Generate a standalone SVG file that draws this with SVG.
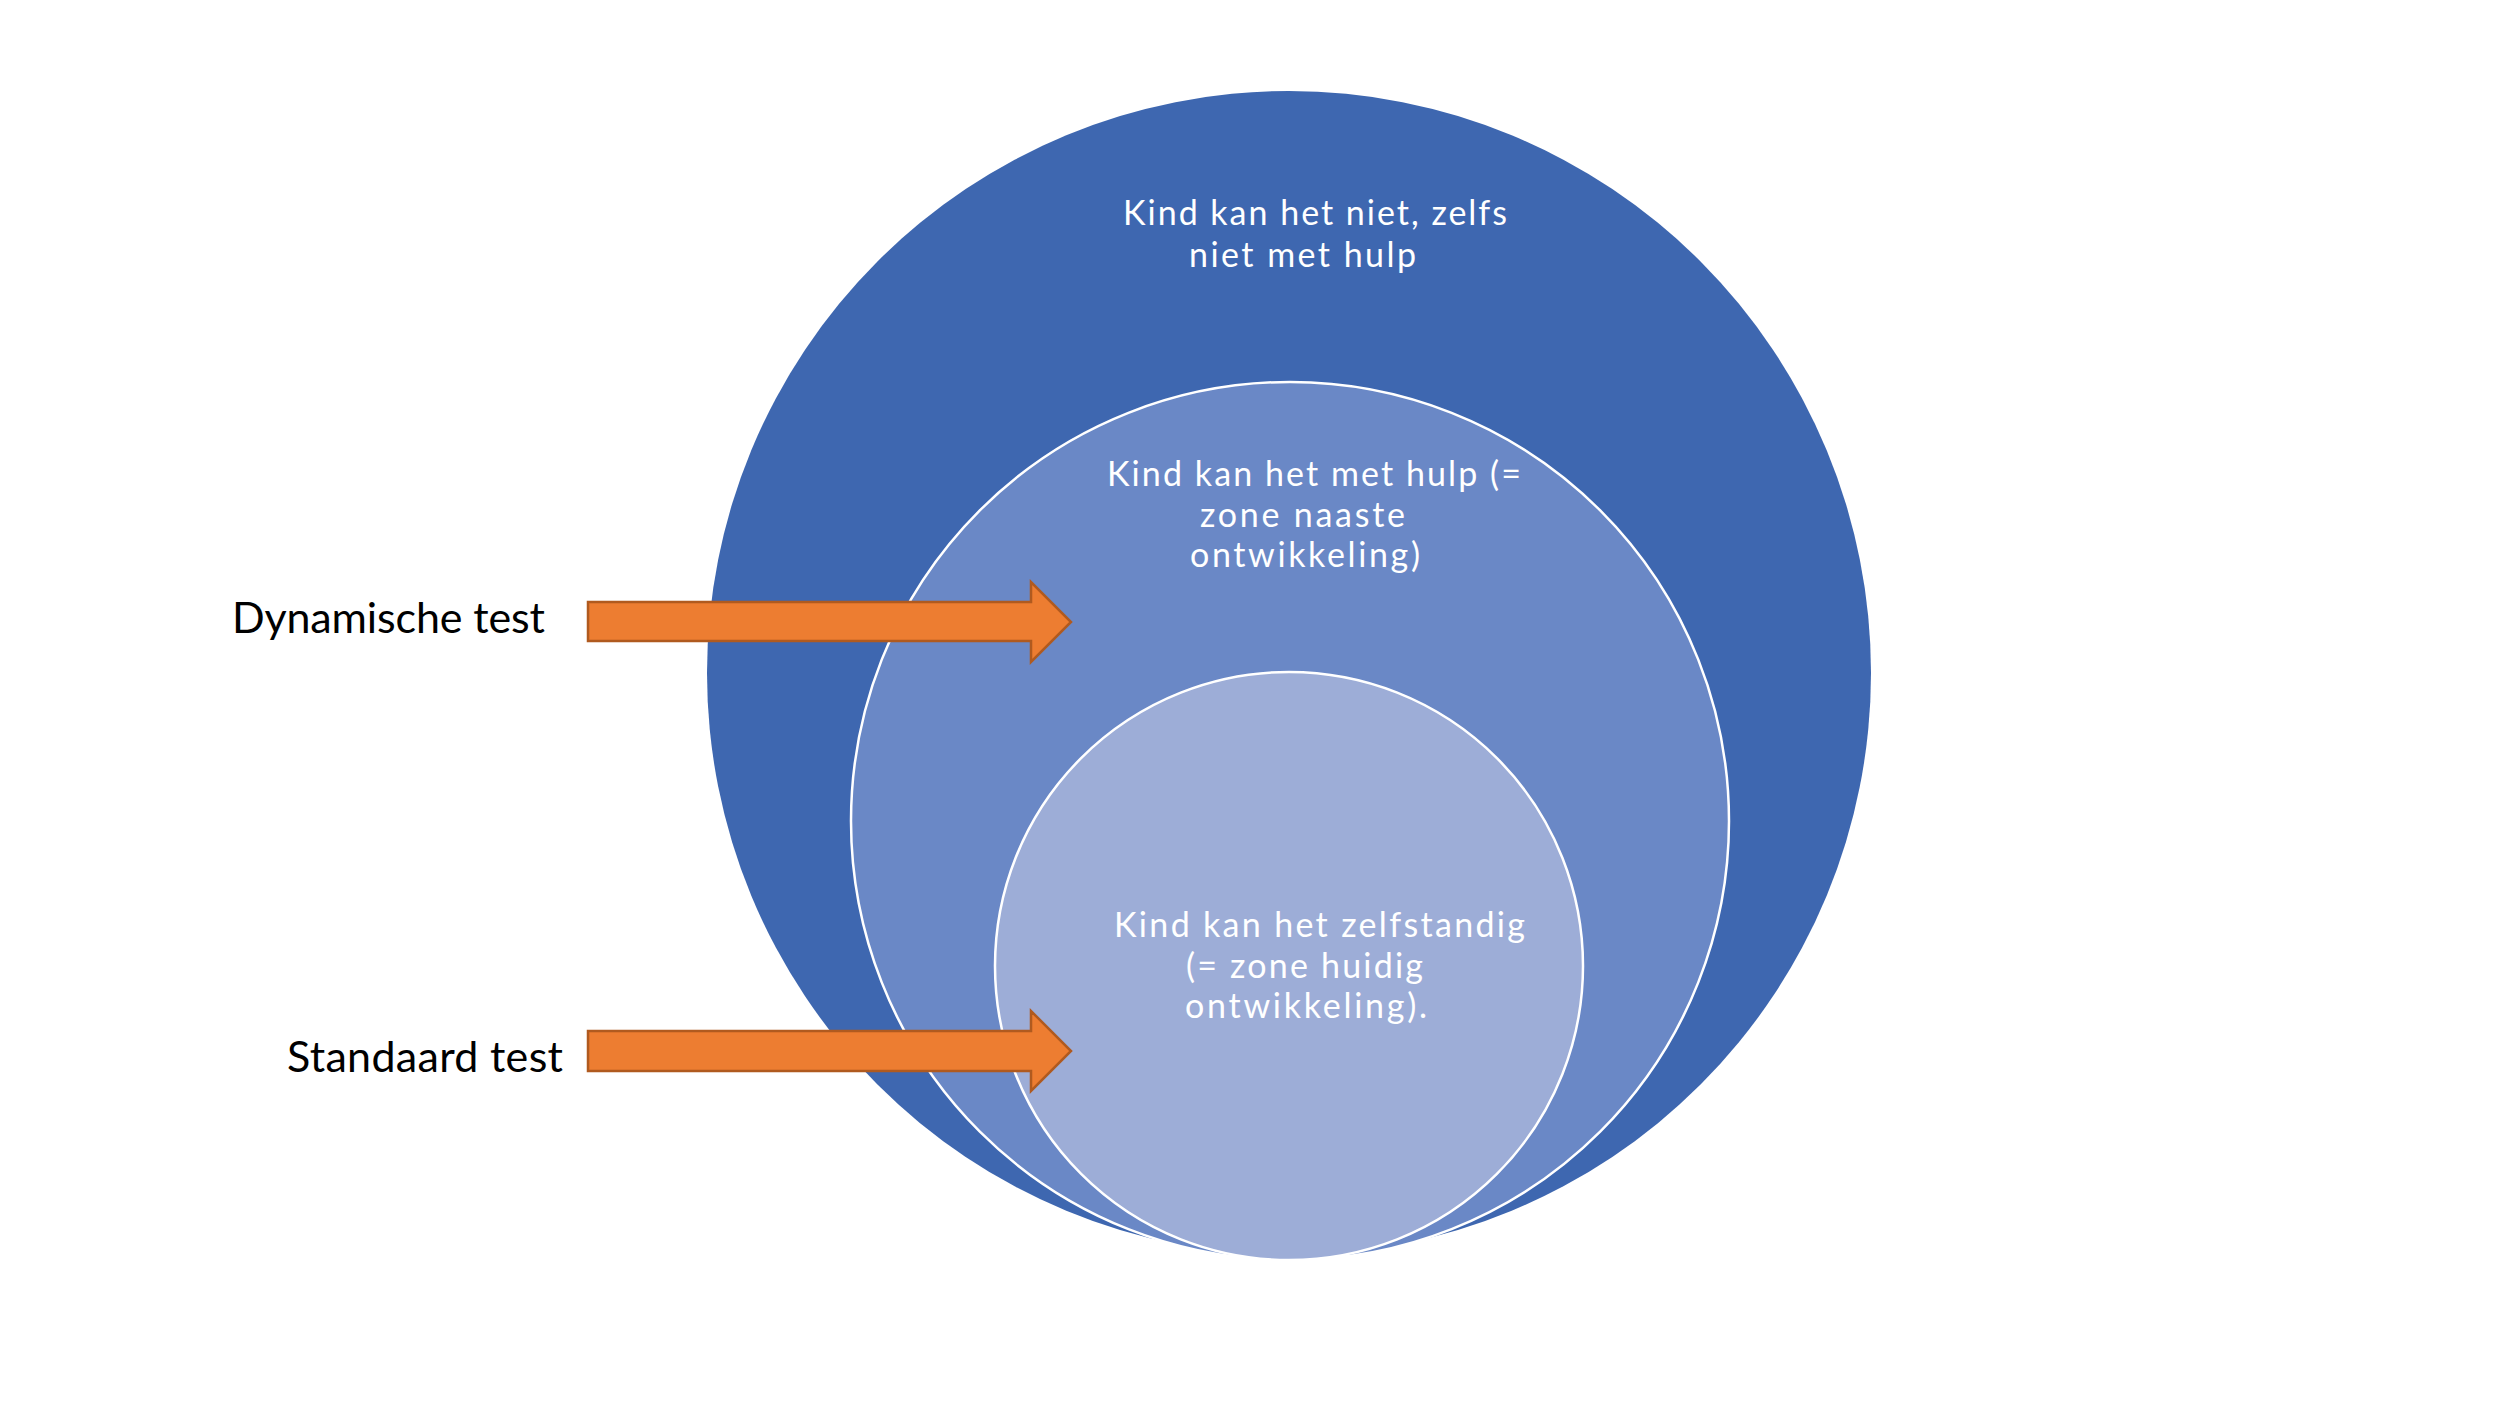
<svg xmlns="http://www.w3.org/2000/svg" width="2500" height="1406" viewBox="0 0 2500 1406">
<style>
.wt{font-family:Lato,"Open Sans","Liberation Sans",sans-serif;font-size:34px;fill:#ffffff}
.bt{font-family:Lato,"Open Sans","Liberation Sans",sans-serif;font-size:43px;fill:#000000}
.arrow{fill:#ED7D31;stroke:#B05A1F;stroke-width:2.5;stroke-linejoin:miter}
</style>
<rect width="2500" height="1406" fill="#ffffff"/>
<g id="outer">
<circle cx="1289" cy="673" r="582" fill="#3E67B0"/>
<text class="wt" x="1123" y="225" textLength="384" lengthAdjust="spacing">Kind kan het niet, zelfs</text>
<text class="wt" x="1189" y="267" textLength="227" lengthAdjust="spacing">niet met hulp</text>
</g>
<g id="middle">
<circle cx="1290" cy="821" r="439" fill="#6A88C6" stroke="#ffffff" stroke-width="2.5"/>
<text class="wt" x="1107" y="486" textLength="414" lengthAdjust="spacing">Kind kan het met hulp (=</text>
<text class="wt" x="1200" y="527" textLength="205" lengthAdjust="spacing">zone naaste</text>
<text class="wt" x="1190" y="567" textLength="230" lengthAdjust="spacing">ontwikkeling)</text>
</g>
<g id="inner">
<circle cx="1289" cy="966" r="294" fill="#9DADD7" stroke="#ffffff" stroke-width="2.5"/>
<text class="wt" x="1114" y="937" textLength="411" lengthAdjust="spacing">Kind kan het zelfstandig</text>
<text class="wt" x="1186" y="978" textLength="237" lengthAdjust="spacing">(= zone huidig</text>
<text class="wt" x="1185" y="1018" textLength="242" lengthAdjust="spacing">ontwikkeling).</text>
</g>
<g id="label-dynamisch">
<text class="bt" x="232" y="633" textLength="313" lengthAdjust="spacing">Dynamische test</text>
</g>
<g id="label-standaard">
<text class="bt" x="287" y="1072" textLength="276" lengthAdjust="spacing">Standaard test</text>
</g>
<g id="connectors">
<polygon class="arrow" points="588,602 1031,602 1031,582 1071,622 1031,662 1031,641 588,641"/>
<polygon class="arrow" points="588,1031 1031,1031 1031,1011 1071,1051 1031,1091 1031,1071 588,1071"/>
</g>
</svg>
